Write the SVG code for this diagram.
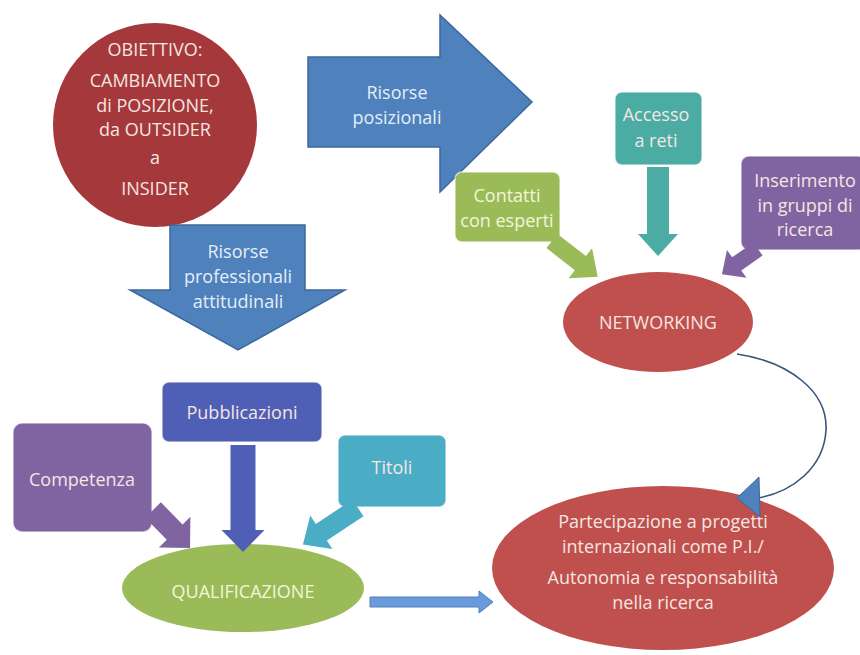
<svg xmlns="http://www.w3.org/2000/svg" width="860" height="655" viewBox="0 0 860 655">
<style>
text{font-family:"Open Sans","Noto Sans","Liberation Sans",sans-serif;font-size:18px;text-anchor:middle}
.lt{fill:#F4E6E2}
.lg{fill:#F2F5DC}
.lb{fill:#E4EEF8}
.bigarrow{fill:#4F81BD;stroke:#3C679C;stroke-width:1.5}
.box{stroke:#FFFFFF;stroke-width:1.5;stroke-opacity:0.6}
</style>
<rect width="860" height="655" fill="#FFFFFF"/>
<g id="obiettivo">
  <circle cx="155" cy="125" r="102" fill="#A5383B"/>
  <text class="lt" x="155" y="56">OBIETTIVO:</text>
  <text class="lt" x="155" y="87">CAMBIAMENTO</text>
  <text class="lt" x="155" y="111.5">di POSIZIONE,</text>
  <text class="lt" x="155" y="136">da OUTSIDER</text>
  <text class="lt" x="155" y="164">a</text>
  <text class="lt" x="155" y="195">INSIDER</text>
</g>
<g id="risorse-posizionali">
  <polygon class="bigarrow" points="308,57 440,57 440,15 532,102 440,192 440,147 308,147"/>
  <text class="lb" x="397" y="99">Risorse</text>
  <text class="lb" x="397" y="124">posizionali</text>
</g>
<g id="risorse-professionali">
  <polygon class="bigarrow" points="170,225 305,225 305,290 345,290 238,350 130,290 170,290"/>
  <text class="lb" x="238" y="258">Risorse</text>
  <text class="lb" x="238" y="283">professionali</text>
  <text class="lb" x="238" y="308">attitudinali</text>
</g>
<g id="contatti">
  <rect class="box" x="455" y="172" width="105" height="70" rx="7" fill="#9BBB59"/>
  <text class="lg" x="507" y="202">Contatti</text>
  <text class="lg" x="507" y="227">con esperti</text>
</g>
<g id="accesso">
  <rect class="box" x="615" y="92" width="87" height="73" rx="7" fill="#4BACA3"/>
  <text class="lt" x="656" y="121">Accesso</text>
  <text class="lt" x="656" y="147">a reti</text>
</g>
<g id="inserimento">
  <rect class="box" x="741" y="156" width="125" height="94" rx="8" fill="#8064A2"/>
  <text class="lt" x="805" y="187">Inserimento</text>
  <text class="lt" x="805" y="211.5">in gruppi di</text>
  <text class="lt" x="805" y="236">ricerca</text>
</g>
<g id="networking">
  <ellipse cx="658" cy="322" rx="95" ry="50" fill="#C0504D"/>
  <text class="lt" x="658" y="329">NETWORKING</text>
</g>
<g id="pubblicazioni">
  <rect class="box" x="162" y="382" width="160" height="60" rx="7" fill="#4F5FB5"/>
  <text class="lt" x="242" y="419">Pubblicazioni</text>
</g>
<g id="competenza">
  <rect class="box" x="13" y="423" width="139" height="109" rx="9" fill="#8064A2"/>
  <text class="lt" x="82" y="486">Competenza</text>
</g>
<g id="titoli">
  <rect class="box" x="338" y="435" width="108" height="72" rx="7" fill="#4BACC6"/>
  <text class="lt" x="392" y="474">Titoli</text>
</g>
<g id="qualificazione">
  <ellipse cx="243" cy="588" rx="121" ry="44" fill="#9BBB59"/>
  <text class="lg" x="243" y="598">QUALIFICAZIONE</text>
</g>
<g id="partecipazione">
  <ellipse cx="663" cy="568" rx="171" ry="82" fill="#C0504D"/>
  <text class="lt" x="663" y="528">Partecipazione a progetti</text>
  <text class="lt" x="663" y="552.5">internazionali come P.I./</text>
  <text class="lt" x="663" y="584">Autonomia e responsabilità</text>
  <text class="lt" x="663" y="608.5">nella ricerca</text>
</g>
<g id="connectors">
  <!-- Contatti -> NETWORKING -->
  <polygon fill="#9BBB59" transform="translate(552,241) rotate(38)" points="0,-9 36,-9 36,-19 58,0 36,19 36,9 0,9"/>
  <!-- Accesso -> NETWORKING -->
  <polygon fill="#4BACA3" transform="translate(658,167) rotate(90)" points="0,-11 67,-11 67,-20 89,0 67,20 67,11 0,11"/>
  <!-- Inserimento -> NETWORKING -->
  <polygon fill="#8064A2" transform="translate(758,249) rotate(145)" points="0,-8 26,-8 26,-17 44,0 26,17 26,8 0,8"/>
  <!-- Pubblicazioni -> QUALIFICAZIONE -->
  <polygon fill="#4F5FB5" transform="translate(243,445) rotate(90)" points="0,-12.5 85,-12.5 85,-21.5 107,0 85,21.5 85,12.5 0,12.5"/>
  <!-- Competenza -> QUALIFICAZIONE -->
  <polygon fill="#8064A2" transform="translate(153,510) rotate(45.7)" points="0,-11 31,-11 31,-22 53,0 31,22 31,11 0,11"/>
  <!-- Titoli -> QUALIFICAZIONE -->
  <polygon fill="#4BACC6" transform="translate(358,508) rotate(146.5)" points="0,-10 44,-10 44,-20 66,0 44,20 44,10 0,10"/>
  <!-- QUALIFICAZIONE -> Partecipazione -->
  <polygon fill="#6A9ADB" stroke="#4F81BD" stroke-width="1" points="370,597 479,597 479,591 493,602 479,613 479,607 370,607"/>
  <!-- NETWORKING -> Partecipazione -->
  <path d="M737,354 C790,362 828,392 826,430 C824,468 792,492 758,498" fill="none" stroke="#35557A" stroke-width="1.6"/>
  <polygon fill="#4F81BD" stroke="#3C679C" stroke-width="1" points="737,498 759,477 760,517"/>
</g>
</svg>
